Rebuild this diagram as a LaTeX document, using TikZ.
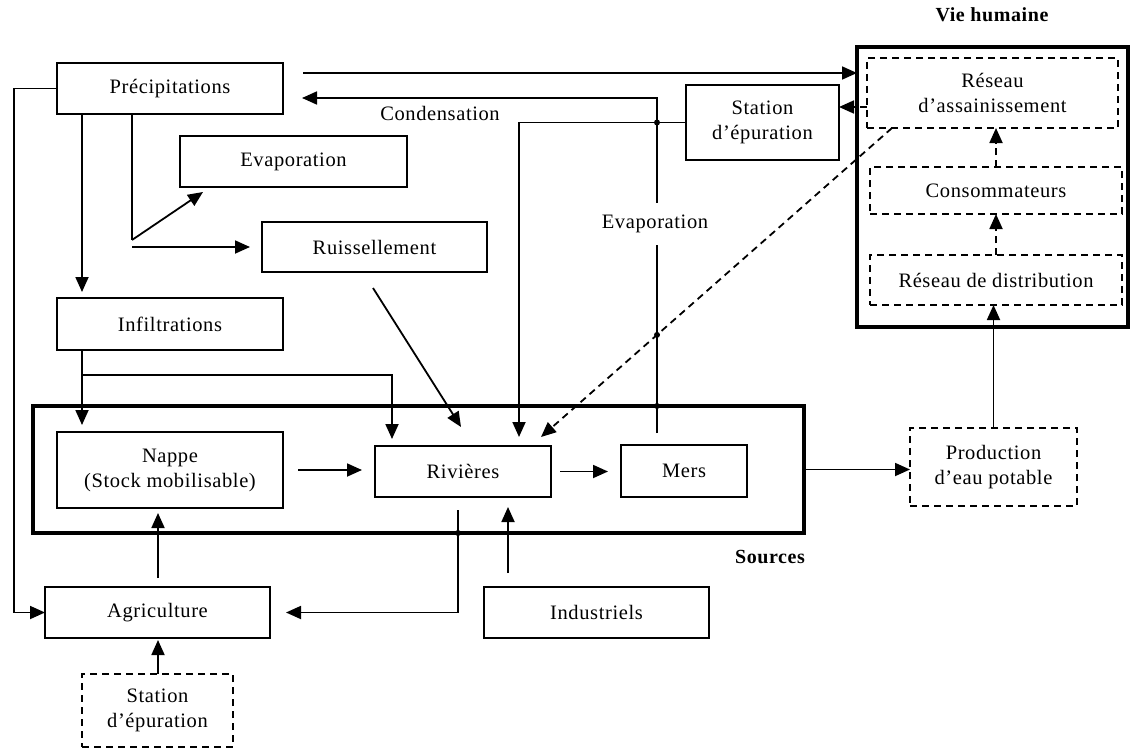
\documentclass[tikz,border=0pt]{standalone}
\usepackage{fontspec}
\setmainfont{Liberation Serif}[LetterSpace=3]
\usetikzlibrary{arrows.meta,calc}

\begin{document}
\begin{tikzpicture}[x=1pt,y=-1pt,
  every node/.style={font=\fontsize{20.5}{25}\selectfont},
  box/.style={draw, line width=1.8pt, anchor=north west, inner sep=0pt, outer sep=0pt, align=center},
  dbox/.style={box, dash pattern=on 7pt off 5pt},
  frame/.style={draw, line width=4.5pt, anchor=north west, inner sep=0pt, outer sep=0pt},
  link/.style={line width=1.8pt},
  arr/.style={link, -{Triangle[length=15pt,width=13pt]}},
  darr/.style={arr, dash pattern=on 7pt off 5pt},
  dot/.style={fill, circle, inner sep=0pt, minimum size=6pt},
  title/.style={font=\fontsize{20}{22}\selectfont\bfseries}
]
\useasboundingbox (0,0) rectangle (1131,749);

% group frames
\node[frame, minimum width=771pt, minimum height=127pt] (src) at (33,406) {};
\node[frame, minimum width=271pt, minimum height=280pt] (life) at (857,47) {};

% water cycle boxes
\node[box, minimum width=226pt, minimum height=51pt] (prec) at (57,63) {Précipitations};
\node[box, minimum width=227pt, minimum height=51pt] (evap) at (180,136) {Evaporation};
\node[box, minimum width=225pt, minimum height=50pt] (ruis) at (262,222) {Ruissellement};
\node[box, minimum width=153pt, minimum height=75pt] (stat) at (686,85) {Station\\d’épuration};
\node[box, minimum width=226pt, minimum height=52pt] (infl) at (57,298) {Infiltrations};
\node[box, minimum width=226pt, minimum height=76pt] (nappe) at (57,432) {Nappe\\(Stock mobilisable)};
\node[box, minimum width=176pt, minimum height=51pt] (riv) at (375,446) {Rivières};
\node[box, minimum width=126pt, minimum height=52pt] (mers) at (621,445) {Mers};
\node[dbox, minimum width=167pt, minimum height=78pt] (prod) at (910,428) {Production\\d’eau potable};
\node[dbox, minimum width=251pt, minimum height=70pt] (assain) at (867,58) {Réseau\\d’assainissement};
\node[dbox, minimum width=252pt, minimum height=47pt] (cons) at (870,167) {Consommateurs};
\node[dbox, minimum width=252pt, minimum height=50pt] (dist) at (870,255) {Réseau de distribution};
\node[box, minimum width=225pt, minimum height=51pt] (agri) at (45,587) {Agriculture};
\node[box, minimum width=225pt, minimum height=51pt] (indu) at (484,587) {Industriels};
\node[dbox, minimum width=151pt, minimum height=73pt] (stat2) at (82,674) {Station\\d’épuration};

% helper points
\coordinate (fork) at ($(prec.south west)+(75,126)$);
\coordinate (rain) at (303,73);
\coordinate (evtop) at (657,98);
\coordinate (sx) at (519,0);
\coordinate (dA) at ($(assain.south west)+(25,0)$);
\coordinate (dB) at ($(riv.north east)+(-10,-9)$);
\coordinate (ib) at ($(infl.south west)+(25,25)$);
\coordinate (rv) at ($(riv.south west)+(83,13)$);

% precipitation paths
\draw[arr] (prec.west) -- ++(-43,0) |- (agri.west);
\draw[arr, shorten >=6pt] ($(prec.south west)+(25,0)$) -- ($(infl.north west)+(25,0)$);
\draw[link] ($(prec.south west)+(75,0)$) -- (fork);
\draw[arr] (fork) -- ($(evap.south west)+(23,5)$);
\draw[arr, shorten >=12pt] (fork |- ruis.west) -- (ruis.west);
\draw[arr] (rain) -- (rain -| life.west);

% evaporation / condensation
\draw[arr, shorten <=12pt, shorten >=19pt] (mers.north -| evtop) -- (evtop) -- (prec.east |- evtop);

% treatment plant outflow
\draw[arr, shorten >=9pt] (stat.west) -| (sx |- riv.north);
\draw[darr] ($(assain.north west)+(0,49)$) -- ($(stat.north east)+(0,22)$);
\draw[darr] (dA) -- (dB);

% infiltration and runoff
\draw[arr, shorten >=7pt] ($(infl.south west)+(25,0)$) -- ($(nappe.north west)+(25,0)$);
\draw[arr, shorten >=7pt] (ib) -| ($(riv.north west)+(17,0)$);
\draw[arr] ($(ruis.south west)+(111,16)$) -- ($(riv.north west)+(86,-19)$);

% sources
\draw[arr, shorten <=15pt, shorten >=13pt] (nappe.east) -- (nappe.east -| riv.west);
\draw[arr, shorten <=9pt, shorten >=13pt] (riv.east) -- (riv.east -| mers.west);
\draw[arr] (src.east) -- (src.east -| prod.west);

% human use
\draw[arr] (prod.north) -- (prod.north |- dist.south);
\draw[darr] (dist.north) -- (dist.north |- cons.south);
\draw[darr] (cons.north) -- (cons.north |- assain.south);

% uses of water
\draw[arr, shorten <=9pt, shorten >=5pt] ($(agri.north west)+(113,0)$) -- ($(nappe.south west)+(101,0)$);
\draw[arr, shorten >=16pt] (rv) |- (agri.east);
\draw[arr, shorten <=14pt, shorten >=10pt] ($(indu.north west)+(24,0)$) -- ($(riv.south west)+(133,0)$);
\draw[arr, shorten >=2pt] ($(stat2.north west)+(76,0)$) -- ($(agri.south west)+(113,0)$);

% junction dots
\node[dot] (j1) at (evtop |- stat.west) {};
\node[dot] (j2) at ($(dA)!0.6695!(dB)$) {};
\node[dot] (j3) at (evtop |- src.north) {};
\node[dot] (j4) at (rv |- src.south) {};

% labels
\node (cond) at (440,113) {Condensation};
\node[fill=white, inner xsep=2pt, inner ysep=12pt] (evlab) at (655,224) {Evaporation};
\node[title] (srclab) at (770,557) {Sources};
\node[title] (lifelab) at (992,15) {Vie humaine};
\end{tikzpicture}
\end{document}
